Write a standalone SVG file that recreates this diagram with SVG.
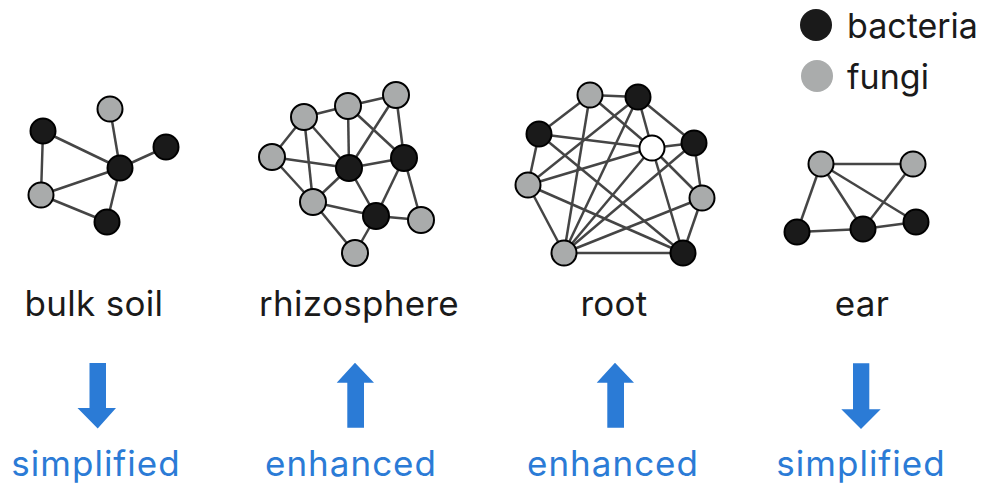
<svg xmlns="http://www.w3.org/2000/svg" width="982" height="488" viewBox="0 0 982 488">
<style>
.e{stroke:#454545;stroke-width:2.5;fill:none}
.b{fill:#1a1a1a;stroke:#000;stroke-width:2}
.f{fill:#a9abab;stroke:#000;stroke-width:2}
.w{fill:#fff;stroke:#000;stroke-width:2}
.lbl{font-family:Inter,"Open Sans",sans-serif;font-size:35px;fill:#1a1a1a;text-anchor:middle;letter-spacing:0.3px}
.leg{font-family:Inter,"Open Sans",sans-serif;font-size:34px;fill:#1a1a1a}
.eff{font-family:Inter,"Open Sans",sans-serif;font-size:35px;fill:#2b7bd6;text-anchor:middle;letter-spacing:1px}
.arr{fill:#2b7bd6}
</style>
<rect width="982" height="488" fill="#fff"/>
<g id="connectors">
<!-- bulk soil -->
<line class="e" x1="43" y1="131" x2="120" y2="168"/>
<line class="e" x1="43" y1="131" x2="41" y2="195"/>
<line class="e" x1="110" y1="109" x2="120" y2="168"/>
<line class="e" x1="166" y1="147" x2="120" y2="168"/>
<line class="e" x1="41" y1="195" x2="120" y2="168"/>
<line class="e" x1="41" y1="195" x2="107" y2="222"/>
<line class="e" x1="120" y1="168" x2="107" y2="222"/>
<!-- rhizosphere -->
<line class="e" x1="304" y1="117" x2="348" y2="106"/>
<line class="e" x1="348" y1="106" x2="396" y2="95"/>
<line class="e" x1="304" y1="117" x2="272" y2="157"/>
<line class="e" x1="304" y1="117" x2="349" y2="168"/>
<line class="e" x1="304" y1="117" x2="313" y2="202"/>
<line class="e" x1="348" y1="106" x2="349" y2="168"/>
<line class="e" x1="348" y1="106" x2="404" y2="158"/>
<line class="e" x1="396" y1="95" x2="349" y2="168"/>
<line class="e" x1="396" y1="95" x2="404" y2="158"/>
<line class="e" x1="272" y1="157" x2="349" y2="168"/>
<line class="e" x1="272" y1="157" x2="313" y2="202"/>
<line class="e" x1="349" y1="168" x2="404" y2="158"/>
<line class="e" x1="349" y1="168" x2="313" y2="202"/>
<line class="e" x1="349" y1="168" x2="376" y2="216"/>
<line class="e" x1="404" y1="158" x2="376" y2="216"/>
<line class="e" x1="404" y1="158" x2="421" y2="220"/>
<line class="e" x1="313" y1="202" x2="376" y2="216"/>
<line class="e" x1="313" y1="202" x2="355" y2="253"/>
<line class="e" x1="376" y1="216" x2="421" y2="220"/>
<line class="e" x1="376" y1="216" x2="355" y2="253"/>
<!-- root -->
<line class="e" x1="590" y1="95" x2="638" y2="97"/>
<line class="e" x1="590" y1="95" x2="539" y2="134"/>
<line class="e" x1="590" y1="95" x2="652" y2="148"/>
<line class="e" x1="590" y1="95" x2="564" y2="253"/>
<line class="e" x1="638" y1="97" x2="652" y2="148"/>
<line class="e" x1="638" y1="97" x2="694" y2="143"/>
<line class="e" x1="638" y1="97" x2="528" y2="185"/>
<line class="e" x1="638" y1="97" x2="564" y2="253"/>
<line class="e" x1="539" y1="134" x2="652" y2="148"/>
<line class="e" x1="539" y1="134" x2="528" y2="185"/>
<line class="e" x1="539" y1="134" x2="683" y2="253"/>
<line class="e" x1="652" y1="148" x2="694" y2="143"/>
<line class="e" x1="652" y1="148" x2="528" y2="185"/>
<line class="e" x1="652" y1="148" x2="702" y2="198"/>
<line class="e" x1="652" y1="148" x2="564" y2="253"/>
<line class="e" x1="652" y1="148" x2="683" y2="253"/>
<line class="e" x1="694" y1="143" x2="702" y2="198"/>
<line class="e" x1="694" y1="143" x2="564" y2="253"/>
<line class="e" x1="528" y1="185" x2="564" y2="253"/>
<line class="e" x1="528" y1="185" x2="683" y2="253"/>
<line class="e" x1="702" y1="198" x2="564" y2="253"/>
<line class="e" x1="702" y1="198" x2="683" y2="253"/>
<line class="e" x1="564" y1="253" x2="683" y2="253"/>
<!-- ear -->
<line class="e" x1="821" y1="164" x2="913" y2="164"/>
<line class="e" x1="821" y1="164" x2="797" y2="232"/>
<line class="e" x1="821" y1="164" x2="863" y2="229"/>
<line class="e" x1="821" y1="164" x2="916" y2="222"/>
<line class="e" x1="913" y1="164" x2="863" y2="229"/>
<line class="e" x1="797" y1="232" x2="863" y2="229"/>
<line class="e" x1="863" y1="229" x2="916" y2="222"/>
</g>
<g id="bulk-soil">
<circle class="b" cx="43" cy="131" r="12.5"/>
<circle class="f" cx="110" cy="109" r="12.5"/>
<circle class="b" cx="166" cy="147" r="12.5"/>
<circle class="b" cx="120" cy="168" r="12.5"/>
<circle class="f" cx="41" cy="195" r="12.5"/>
<circle class="b" cx="107" cy="222" r="12.5"/>
<text class="lbl" x="94" y="316">bulk soil</text>
</g>
<g id="rhizosphere">
<circle class="f" cx="304" cy="117" r="13"/>
<circle class="f" cx="348" cy="106" r="13"/>
<circle class="f" cx="396" cy="95" r="13"/>
<circle class="f" cx="272" cy="157" r="13"/>
<circle class="b" cx="349" cy="168" r="13"/>
<circle class="b" cx="404" cy="158" r="13"/>
<circle class="f" cx="313" cy="202" r="13"/>
<circle class="b" cx="376" cy="216" r="13"/>
<circle class="f" cx="421" cy="220" r="13"/>
<circle class="f" cx="355" cy="253" r="13"/>
<text class="lbl" x="359" y="316">rhizosphere</text>
</g>
<g id="root">
<circle class="f" cx="590" cy="95" r="12.5"/>
<circle class="b" cx="638" cy="97" r="12.5"/>
<circle class="b" cx="539" cy="134" r="12.5"/>
<circle class="w" cx="652" cy="148" r="12.5"/>
<circle class="b" cx="694" cy="143" r="12.5"/>
<circle class="f" cx="528" cy="185" r="12.5"/>
<circle class="f" cx="702" cy="198" r="12.5"/>
<circle class="f" cx="564" cy="253" r="12.5"/>
<circle class="b" cx="683" cy="253" r="12.5"/>
<text class="lbl" x="614" y="316">root</text>
</g>
<g id="ear">
<circle class="f" cx="821" cy="164" r="12.5"/>
<circle class="f" cx="913" cy="164" r="12.5"/>
<circle class="b" cx="797" cy="232" r="12.5"/>
<circle class="b" cx="863" cy="229" r="12.5"/>
<circle class="b" cx="916" cy="222" r="12.5"/>
<text class="lbl" x="862" y="316">ear</text>
</g>
<g id="legend">
<circle cx="816" cy="25" r="16" fill="#1a1a1a"/>
<text class="leg" x="847" y="38">bacteria</text>
<circle cx="817" cy="76" r="16" fill="#aaacac"/>
<text class="leg" x="847" y="89">fungi</text>
</g>
<g id="effect-bulk-soil">
<path class="arr" d="M89.5 363 H106 V408 H116 L97.7 428.5 L77.5 408 H89.5 Z"/>
<text class="eff" x="96" y="476">simplified</text>
</g>
<g id="effect-rhizosphere">
<path class="arr" d="M355 362.7 L374 382.7 H364 V427.7 H347.3 V382.7 H336.7 Z"/>
<text class="eff" x="351" y="476">enhanced</text>
</g>
<g id="effect-root">
<path class="arr" d="M615 362.7 L634 382.7 H624 V427.7 H607.3 V382.7 H596.7 Z"/>
<text class="eff" x="613" y="476">enhanced</text>
</g>
<g id="effect-ear">
<path class="arr" d="M853 363.3 H869.3 V409.3 H880.7 L861 429 L841.3 409.3 H853 Z"/>
<text class="eff" x="861" y="476">simplified</text>
</g>
</svg>
